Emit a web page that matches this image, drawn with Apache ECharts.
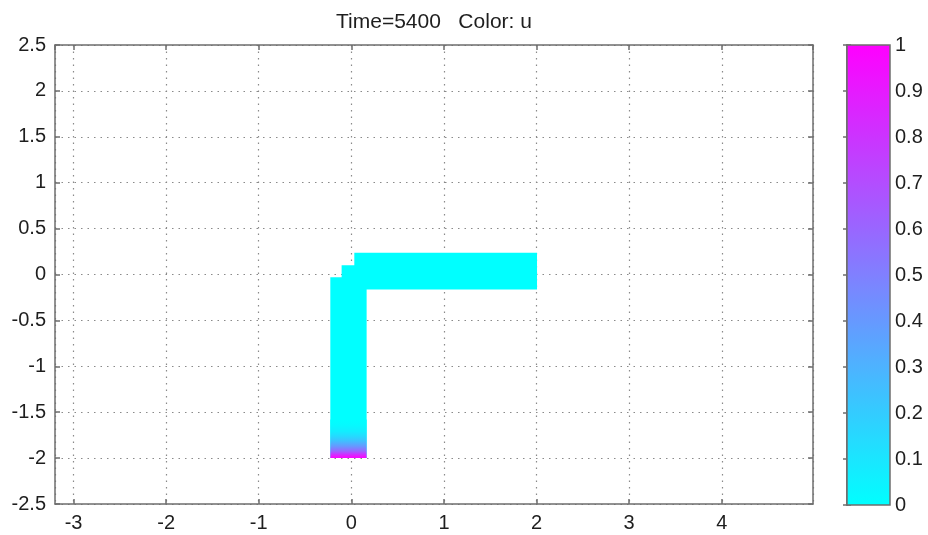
<!DOCTYPE html>
<html>
<head>
<meta charset="utf-8">
<script src="https://cdn.jsdelivr.net/npm/echarts@6/dist/echarts.min.js"></script>
<style>
  html, body { margin: 0; padding: 0; background: #fff; }
  #chart { width: 928px; height: 535px; }
</style>
</head>
<body>
<div id="chart"></div>
<script>
// Plot title
const titleText = 'Time=5400   Color: u';

// Axis tick labels
const xTickLabels = [-3, -2, -1, 0, 1, 2, 3, 4];
const yTickLabels = [-2.5, -2, -1.5, -1, -0.5, 0, 0.5, 1, 1.5, 2, 2.5];
const colorbarTicks = [0, 0.1, 0.2, 0.3, 0.4, 0.5, 0.6, 0.7, 0.8, 0.9, 1];

// Axis limits
const xLimits = [-3.2, 4.985];
const yLimits = [-2.5, 2.5];
const uLimits = [0, 1];

// Domain outline (L-shaped channel), vertex coordinates
const domainX = [-0.227, 0.165, 0.165, 2.005, 2.005, 0.032, 0.032, -0.105, -0.105, -0.227];
const domainY = [-2.0, -2.0, -0.163, -0.163, 0.236, 0.236, 0.101, 0.101, -0.029, -0.029];
// Background value of u over the domain
const domainU = 0;

// Inlet zone at the bottom of the vertical leg, where u varies with height
const inletX = [-0.227, 0.165];
const inletY = [-2.0, -1.58];
// u profile along y inside the inlet zone
const uProfileY = [-2.0, -1.967, -1.924, -1.87, -1.815, -1.76, -1.71, -1.64, -1.58];
const uProfile  = [1.0, 0.85, 0.6, 0.4, 0.25, 0.14, 0.07, 0.02, 0.0];

// "cool" colormap: cyan at u=0, magenta at u=1
const colormap = [[0, 255, 255], [255, 0, 255]];
function uColor(u) {
  const t = (u - uLimits[0]) / (uLimits[1] - uLimits[0]);
  const c = colormap[0].map((v, i) => Math.round(v + (colormap[1][i] - v) * t));
  return 'rgb(' + c.join(',') + ')';
}

const FONT = 'Liberation Sans, Arial, Helvetica, sans-serif';
const AXIS_COLOR = '#6e6e6e';
const TEXT_COLOR = '#1e1e1e';

const chart = echarts.init(document.getElementById('chart'), null, { renderer: 'canvas' });

const mainAxisBase = {
  type: 'value',
  gridIndex: 0,
  axisLine: { show: true, onZero: false, lineStyle: { color: AXIS_COLOR, width: 1.5 } },
  axisTick: { show: true, inside: true, length: 5, lineStyle: { color: AXIS_COLOR, width: 1.5 } },
};

const option = {
  animation: false,
  backgroundColor: '#fff',
  title: {
    text: titleText,
    left: 331,
    top: 7,
    textStyle: { fontFamily: FONT, fontSize: 21, fontWeight: 'normal', color: TEXT_COLOR }
  },
  grid: [
    { left: 55, top: 45, width: 758, height: 459 },
    { left: 847, top: 45, width: 43, height: 460 }
  ],
  xAxis: [
    Object.assign({}, mainAxisBase, {
      min: xLimits[0], max: xLimits[1], splitNumber: xTickLabels.length,
      position: 'bottom',
      axisLabel: {
        fontFamily: FONT, fontSize: 20, color: TEXT_COLOR, margin: 9,
        showMinLabel: false, showMaxLabel: false,
        formatter: v => xTickLabels.includes(Math.round(v * 1000) / 1000) ? String(v) : ''
      },
      splitLine: { show: true, lineStyle: { color: '#8a8a8a', width: 1.2, type: [1.5, 5] } }
    }),
    Object.assign({}, mainAxisBase, {
      min: xLimits[0], max: xLimits[1], splitNumber: xTickLabels.length,
      position: 'top',
      axisLabel: { show: false },
      splitLine: { show: false }
    }),
    { type: 'value', gridIndex: 1, min: 0, max: 1, show: false }
  ],
  yAxis: [
    Object.assign({}, mainAxisBase, {
      min: yLimits[0], max: yLimits[1], interval: 0.5,
      position: 'left',
      axisLabel: { fontFamily: FONT, fontSize: 20, color: TEXT_COLOR, margin: 9 },
      splitLine: { show: true, lineStyle: { color: '#8a8a8a', width: 1.2, type: [1.5, 5] } }
    }),
    Object.assign({}, mainAxisBase, {
      min: yLimits[0], max: yLimits[1], interval: 0.5,
      position: 'right',
      axisLabel: { show: false },
      splitLine: { show: false }
    }),
    {
      type: 'value', gridIndex: 1, min: uLimits[0], max: uLimits[1], interval: 0.1,
      position: 'right',
      axisLine: { show: true, lineStyle: { color: AXIS_COLOR, width: 1.5 } },
      axisTick: { show: true, inside: true, length: 4, lineStyle: { color: AXIS_COLOR, width: 1.5 } },
      axisLabel: { fontFamily: FONT, fontSize: 20, color: TEXT_COLOR, margin: 5, padding: [6, 0, 0, 0] },
      splitLine: { show: false }
    },
    {
      type: 'value', gridIndex: 1, min: uLimits[0], max: uLimits[1], interval: 0.1,
      position: 'left',
      axisLine: { show: true, lineStyle: { color: AXIS_COLOR, width: 1.5 } },
      axisTick: { show: true, inside: true, length: 4, lineStyle: { color: AXIS_COLOR, width: 1.5 } },
      axisLabel: { show: false },
      splitLine: { show: false }
    }
  ],
  series: [
    {
      // Domain coloured by its background u value
      type: 'custom',
      xAxisIndex: 0, yAxisIndex: 0,
      clip: true,
      z: 3,
      data: [[domainX[0], domainY[0]]],
      renderItem: function (params, api) {
        const pts = domainX.map((x, i) => api.coord([x, domainY[i]]));
        return {
          type: 'polygon',
          shape: { points: pts },
          style: { fill: uColor(domainU), stroke: null }
        };
      }
    },
    {
      // Inlet zone, shaded from the u profile
      type: 'custom',
      xAxisIndex: 0, yAxisIndex: 0,
      clip: true,
      z: 4,
      data: [[inletX[0], inletY[0]]],
      renderItem: function (params, api) {
        const p0 = api.coord([inletX[0], inletY[1]]);
        const p1 = api.coord([inletX[1], inletY[0]]);
        const span = inletY[1] - inletY[0];
        const stops = uProfileY.map((y, i) => ({
          offset: (inletY[1] - y) / span,
          color: uColor(uProfile[i])
        })).sort((a, b) => a.offset - b.offset);
        return {
          type: 'rect',
          shape: { x: p0[0], y: p0[1], width: p1[0] - p0[0], height: p1[1] - p0[1] },
          style: { fill: new echarts.graphic.LinearGradient(0, 0, 0, 1, stops), stroke: null }
        };
      }
    },
    {
      // Colour bar
      type: 'custom',
      xAxisIndex: 2, yAxisIndex: 2,
      z: 1,
      data: [[0, uLimits[0]]],
      renderItem: function (params, api) {
        const top = api.coord([0, uLimits[1]]);
        const bottom = api.coord([1, uLimits[0]]);
        const stops = colorbarTicks.map(u => ({
          offset: (uLimits[1] - u) / (uLimits[1] - uLimits[0]),
          color: uColor(u)
        })).sort((a, b) => a.offset - b.offset);
        return {
          type: 'rect',
          shape: { x: top[0], y: top[1], width: bottom[0] - top[0], height: bottom[1] - top[1] },
          style: {
            fill: new echarts.graphic.LinearGradient(0, 0, 0, 1, stops),
            stroke: AXIS_COLOR, lineWidth: 1.5
          }
        };
      }
    }
  ]
};

chart.setOption(option);
</script>
</body>
</html>
